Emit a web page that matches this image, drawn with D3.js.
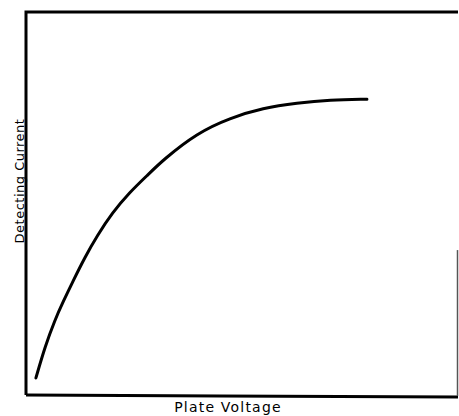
<!DOCTYPE html>
<html>
<head>
<meta charset="utf-8">
<script src="https://cdn.jsdelivr.net/npm/d3@7/dist/d3.min.js"></script>
<style>
  html, body { margin: 0; padding: 0; background: #fff; }
  svg { display: block; }
</style>
</head>
<body>
<svg id="chart" width="459" height="416"></svg>
<script>
// Detecting current vs plate voltage (relative units, 0-100)
const plateVoltage = [2.3, 4.4, 6.7, 8.6, 10.9, 13.7, 16.5, 20.0, 24.1, 28.1, 31.8, 39.7, 47.3, 55.0, 62.9, 70.5, 79.1];
const detectingCurrent = [4.7, 12.8, 19.8, 24.5, 29.9, 36.2, 41.7, 47.7, 53.1, 57.4, 61.5, 68.5, 72.4, 75.0, 76.3, 77.1, 77.3];
const axisTitles = ["Plate Voltage", "Detecting Current"];

const svg = d3.select("#chart");
const frame = { left: 26, right: 457, top: 12, bottom: 396 };

const x = d3.scaleLinear().domain([0, 100]).range([frame.left, frame.right]);
const y = d3.scaleLinear().domain([0, 100]).range([frame.bottom, frame.top]);

// Frame: left, top and bottom drawn heavy, right side faint
const line = d3.line().x(d => d[0]).y(d => d[1]);
svg.append("path")
  .attr("d", line([[x(0), y(0) - 1], [x(0), y(100)], [x(100) + 1, y(100)]]))
  .attr("fill", "none").attr("stroke", "#000").attr("stroke-width", 3)
  .attr("stroke-linejoin", "miter");
svg.append("path")
  .attr("d", line([[x(0), y(0) - 1], [x(45), y(0)], [x(100) + 1, y(0) + 1]]))
  .attr("fill", "none").attr("stroke", "#000").attr("stroke-width", 3);
svg.append("line")
  .attr("x1", x(100) + 0.5).attr("x2", x(100) + 0.5)
  .attr("y1", y(38)).attr("y2", y(0))
  .attr("stroke", "#555").attr("stroke-width", 1.5);

// Characteristic curve, smoothed through the sampled values
const curve = d3.line()
  .x((d, i) => x(plateVoltage[i]))
  .y(d => y(d))
  .curve(d3.curveBasis);
svg.append("path")
  .datum(detectingCurrent)
  .attr("d", curve)
  .attr("fill", "none")
  .attr("stroke", "#000")
  .attr("stroke-width", 3)
  .attr("stroke-linecap", "round");

// Axis titles
svg.append("text")
  .attr("x", 228).attr("y", 412)
  .attr("text-anchor", "middle")
  .attr("font-family", "DejaVu Sans")
  .attr("font-size", 14)
  .attr("letter-spacing", 1.2)
  .text(axisTitles[0]);

svg.append("text")
  .attr("transform", "translate(24,181) rotate(-90)")
  .attr("text-anchor", "middle")
  .attr("font-family", "DejaVu Sans")
  .attr("font-size", 13)
  .attr("letter-spacing", 0.5)
  .text(axisTitles[1]);
</script>
</body>
</html>
